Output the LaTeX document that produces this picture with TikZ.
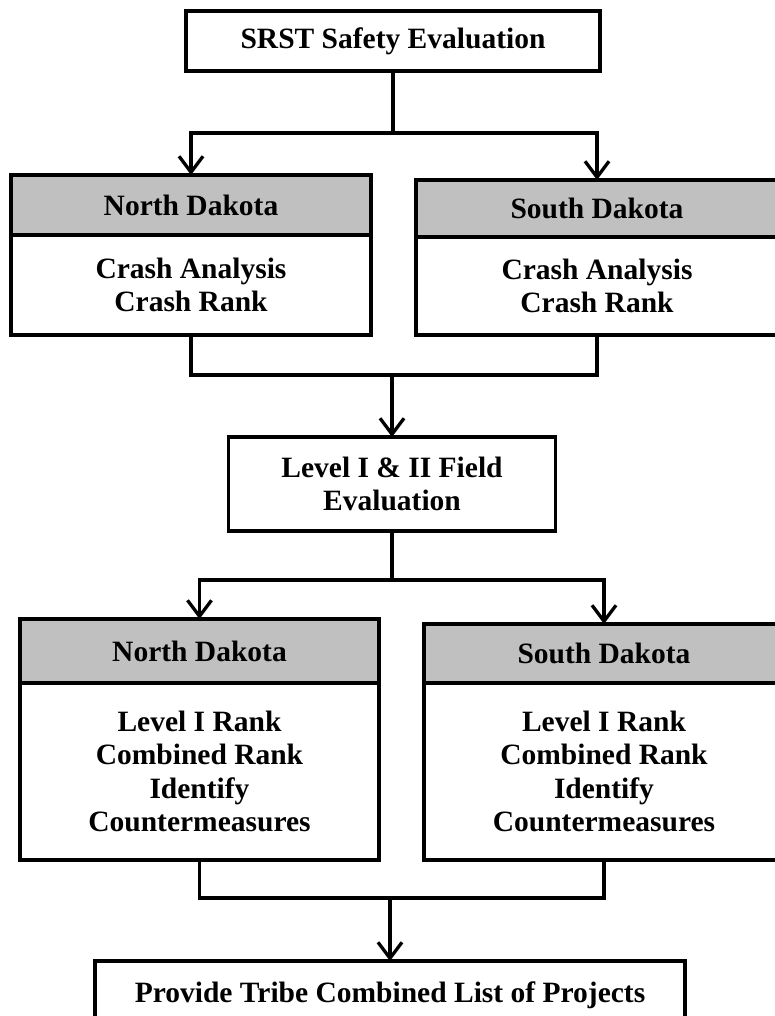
\documentclass[tikz,border=0pt]{standalone}
\usepackage{fontspec}
\setmainfont{Liberation Serif}
\usetikzlibrary{arrows.meta}
\definecolor{hdrgray}{RGB}{192,192,192}
\tikzset{
  box/.style={draw=black, line width=3.3pt, fill=white, inner sep=0pt, outer sep=0pt,
    align=center, font=\fontsize{29.5}{33.5}\selectfont\bfseries, line join=miter},
  hdr/.style={box, fill=hdrgray},
  conn/.style={draw=black, line width=3.3pt, line join=miter},
  arr/.style={conn, -{Straight Barb[length=16pt,width=24pt,line width=3.3pt]}}
}
\begin{document}
\begin{tikzpicture}[x=1pt,y=-1pt]
\useasboundingbox (0,0) rectangle (775,1016);
\clip (0,0) rectangle (775,1016);
\fill[white] (0,0) rectangle (775,1016);
% boxes
\node[box, minimum width=414pt, minimum height=60pt] (top) at (393,41) {SRST Safety Evaluation};
\node[hdr, minimum width=360pt, minimum height=60pt] (nd1h) at (191,205) {North Dakota};
\node[box, minimum width=360pt, minimum height=100pt] (nd1b) at (191,285) {Crash Analysis\\Crash Rank};
\node[hdr, minimum width=362pt, minimum height=57pt] (sd1h) at (597,208.5) {South Dakota};
\node[box, minimum width=362pt, minimum height=98pt] (sd1b) at (597,286) {Crash Analysis\\Crash Rank};
\node[box, minimum width=327pt, minimum height=94pt] (lvl) at (392,484) {Level I \& II Field\\Evaluation};
\node[hdr, minimum width=359pt, minimum height=64pt] (nd2h) at (199.5,651) {North Dakota};
\node[box, minimum width=359pt, minimum height=177pt] (nd2b) at (199.5,771.5) {Level I Rank\\Combined Rank\\Identify\\Countermeasures};
\node[hdr, minimum width=360pt, minimum height=59pt] (sd2h) at (604,653.5) {South Dakota};
\node[box, minimum width=360pt, minimum height=177pt] (sd2b) at (604,771.5) {Level I Rank\\Combined Rank\\Identify\\Countermeasures};
\node[box, minimum width=590pt, minimum height=68pt] (fin) at (390,995) {Provide Tribe Combined List of Projects};
% junction points
\coordinate (s1) at (393,133);
\coordinate (m1) at (392,375);
\coordinate (s2) at (392,580);
\coordinate (m2) at (390,898);
% connectors
\draw[conn] (top.south) -- (s1);
\draw[arr] (s1) -| (nd1h.north);
\draw[arr] (s1) -| (sd1h.north);
\draw[conn] (nd1b.south) |- (m1) -| (sd1b.south);
\draw[arr] (m1) -- (lvl.north);
\draw[conn] (lvl.south) -- (s2);
\draw[arr] (s2) -| (nd2h.north);
\draw[arr] (s2) -| (sd2h.north);
\draw[conn] (nd2b.south) |- (m2) -| (sd2b.south);
\draw[arr] (m2) -- (fin.north);
\end{tikzpicture}
\end{document}
